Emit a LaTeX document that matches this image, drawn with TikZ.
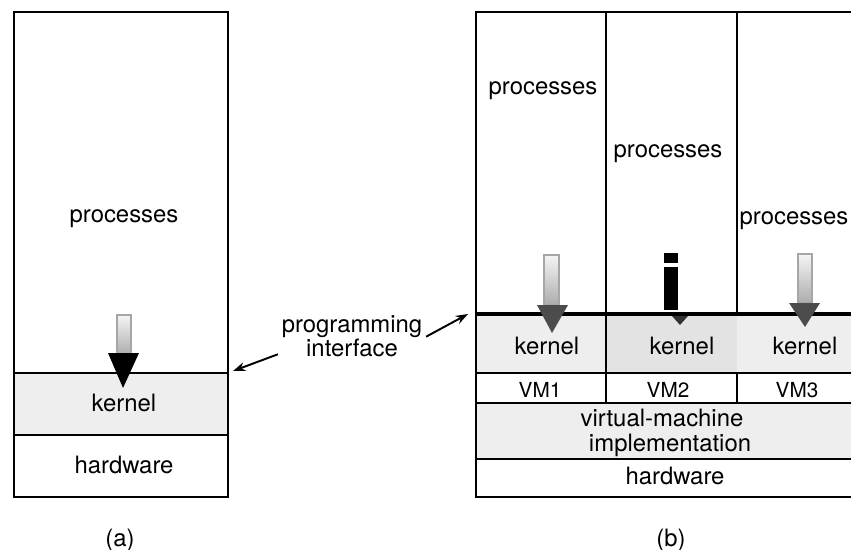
\documentclass[tikz,border=0pt]{standalone}
\usepackage{fontspec}
\setmainfont{TeX Gyre Heros}
\usetikzlibrary{arrows.meta,positioning}

\tikzset{
  lbl/.style={font=\fontsize{13.6}{15}\selectfont, inner sep=0pt, text height=0.72em, text depth=0.22em, yshift=-2pt},
  vmlbl/.style={font=\fontsize{11.8}{13}\selectfont, inner sep=0pt, text height=0.72em, text depth=0.22em, yshift=-1.5pt},
  layer/.style={draw=black, line width=1.1pt},
  kern/.style={fill=gray!13},
  kerndark/.style={fill=gray!22},
  iface/.style={line width=1.1pt, -{Stealth[length=7pt,width=5pt]}},
  shaft/.style={top color=gray!8, bottom color=gray!65, draw=gray!70, line width=0.6pt},
}

\begin{document}
\begin{tikzpicture}[x=0.02cm, y=-0.02cm]
\useasboundingbox (0,0) rectangle (851,550);
% (a) ordinary machine
\fill[kern] (14,373) rectangle (228,435);
\draw[layer] (14,12) rectangle (228,497);
\draw[layer] (14,373) -- (228,373);
\draw[layer] (14,435) -- (228,435);
\node[lbl] (procA) at (124,215) {processes};
\node[lbl] (kernA) at (124,404) {kernel};
\node[lbl] (hwA) at (124,466) {hardware};
\shade[shaft] (117,315) rectangle (131,355);
\fill[black] (108,353) -- (139,353) -- (123,388) -- cycle;
\node[lbl] (capA) at (120,539) {(a)};
% (b) virtual machines
\fill[kern] (476,313) rectangle (606,373);
\fill[kerndark] (606,313) rectangle (737,373);
\fill[kern] (737,313) rectangle (851,373);
\fill[kern] (476,403) rectangle (851,459);
\draw[layer] (851,12) -- (476,12) -- (476,497) -- (851,497);
\draw[layer] (606,12) -- (606,403);
\draw[layer] (737,12) -- (737,313);
\draw[layer] (737,373) -- (737,403);
\draw[black, line width=2.2pt] (476,314) -- (851,314);
\draw[layer] (476,373) -- (851,373);
\draw[layer] (476,403) -- (851,403);
\draw[layer] (476,459) -- (851,459);
% column 1
\node[lbl] (procB1) at (543,87) {processes};
\node[lbl] (kernB1) at (547,347) {kernel};
\node[vmlbl] (vm1) at (540,390) {VM1};
\shade[shaft] (544,255) rectangle (559,305);
\fill[gray!60!black] (537,305) -- (568,305) -- (552,333) -- cycle;
% column 2
\node[lbl] (procB2) at (668,150) {processes};
\node[lbl] (kernB2) at (682,347) {kernel};
\node[vmlbl] (vm2) at (668,390) {VM2};
\fill[black] (664,253) rectangle (678,263);
\fill[black] (664,267) rectangle (678,310);
\fill[gray!40!black] (672,316) -- (688,316) -- (680,325) -- cycle;
% column 3
\node[lbl] (procB3) at (794,217) {processes};
\node[lbl] (kernB3) at (805,347) {kernel};
\node[vmlbl] (vm3) at (797,390) {VM3};
\shade[shaft] (798,254) rectangle (812,303);
\fill[gray!60!black] (789,303) -- (820,303) -- (805,327) -- cycle;
% shared layers
\node[lbl] (vmimpl1) at (662,419) {virtual-machine};
\node[lbl] (vmimpl2) at (670,444) {implementation};
\node[lbl] (hwB) at (675,477) {hardware};
\node[lbl] (capB) at (671,539) {(b)};
% programming interface
\node[lbl, align=center] (api) at (352,349) {programming\\[-1pt]interface};
\coordinate (apiA) at (233,371);
\coordinate (apiB) at (468,314);
\draw[iface] ([xshift=-2pt, yshift=-1pt]api.west) -- (apiA);
\draw[iface] ([xshift=2pt, yshift=9pt]api.east) -- (apiB);
\end{tikzpicture}
\end{document}
